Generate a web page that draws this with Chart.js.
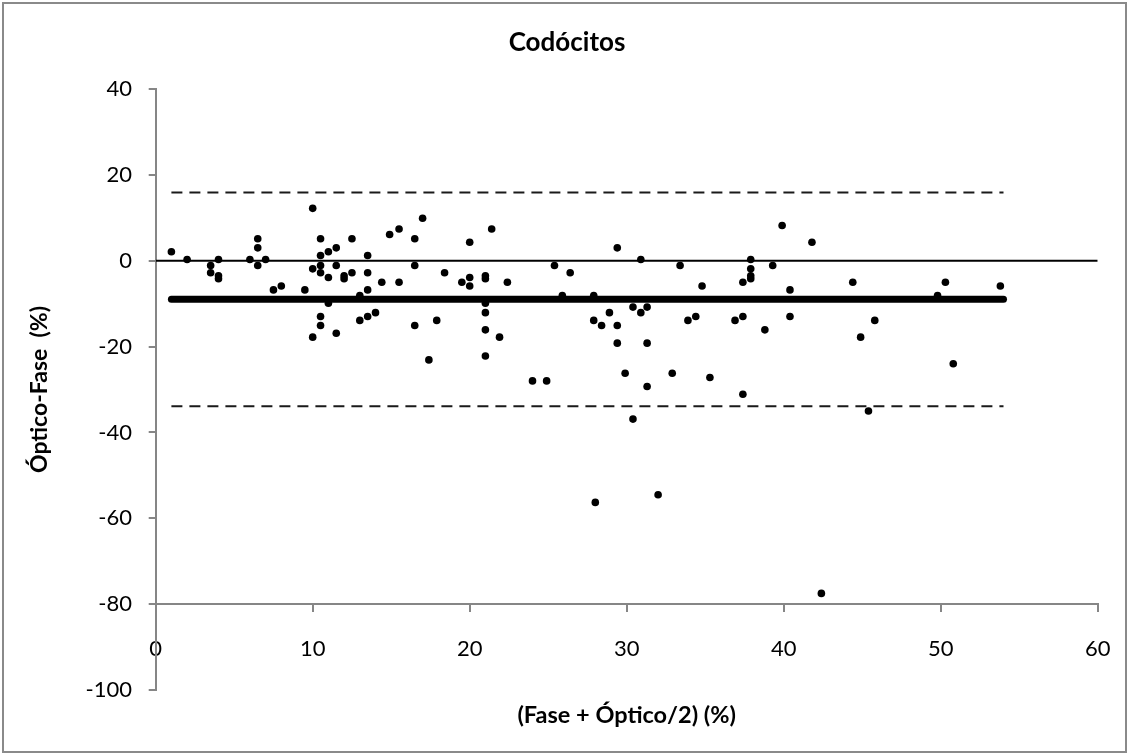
<!DOCTYPE html>
<html>
<head>
<meta charset="utf-8">
<title>Codócitos</title>
<script src="https://cdn.jsdelivr.net/npm/chart.js@4"></script>
<style>
  body { margin: 0; background: #fff; }
  #frame {
    position: absolute;
    left: 2px;
    top: 2px;
    width: 1125px;
    height: 751px;
    border: 2px solid #8a8a8a;
    box-sizing: border-box;
  }
</style>
</head>
<body>
<div id="frame"><canvas id="baChart" width="1121" height="747"></canvas></div>
<script>
// mean of the two methods (x) and difference Óptico-Fase (y)
const meanValues = [
  1.0, 2.0, 3.5, 3.5, 4.0, 4.0, 4.0, 6.0, 6.5, 6.5, 6.5, 7.0, 7.5, 8.0, 9.5,
  10.0, 10.0, 10.0, 10.5, 10.5, 10.5, 10.5, 10.5, 10.5, 11.0, 11.0, 11.0,
  11.5, 11.5, 11.5, 12.0, 12.0, 12.5, 12.5, 13.0, 13.0, 13.5, 13.5, 13.5, 13.5, 14.0,
  14.4, 14.9, 15.5, 15.5, 16.5, 16.5, 16.5, 17.0, 17.4, 17.9, 18.4, 19.5,
  20.0, 20.0, 20.0, 21.0, 21.0, 21.0, 21.0, 21.0, 21.0, 21.4, 21.9, 22.4,
  24.0, 24.9, 25.4, 25.9, 26.4, 27.9, 27.9, 28.0, 28.4,
  28.9, 29.4, 29.4, 29.4, 29.9, 30.4, 30.4, 30.9, 30.9, 31.3, 31.3, 31.3,
  32.0, 32.9, 33.4, 33.9, 34.4, 34.8, 35.3, 36.9, 37.4, 37.4, 37.4,
  37.9, 37.9, 37.9, 37.9, 38.8, 39.3, 39.9, 40.4, 40.4, 41.8, 42.4,
  44.4, 44.9, 45.4, 45.8, 49.8, 50.3, 50.8, 53.8
];
const diffValues = [
  2.1, 0.3, -1.1, -2.8, 0.3, -3.5, -4.2, 0.3, 5.1, 3.0, -1.1, 0.3, -6.8, -5.9, -6.8,
  12.2, -1.9, -17.8, 5.1, 1.2, -1.1, -2.8, -13.0, -15.1, 2.1, -3.9, -9.9,
  3.0, -1.1, -16.9, -3.5, -4.2, 5.1, -2.8, -8.1, -13.9, 1.2, -2.8, -6.8, -13.0, -12.1,
  -5.0, 6.1, 7.4, -5.0, 5.1, -1.1, -15.1, 9.9, -23.1, -13.9, -2.8, -5.0,
  4.3, -3.9, -5.9, -3.5, -4.2, -9.9, -12.1, -16.1, -22.2, 7.4, -17.8, -5.0,
  -28.0, -28.0, -1.1, -8.1, -2.8, -8.1, -13.9, -56.3, -15.1,
  -12.1, 3.0, -15.1, -19.2, -26.2, -10.8, -36.9, 0.3, -12.1, -10.8, -19.2, -29.3,
  -54.5, -26.2, -1.1, -13.9, -13.0, -5.9, -27.2, -13.9, -5.0, -13.0, -31.1,
  0.3, -1.9, -3.5, -4.2, -16.1, -1.1, 8.2, -6.8, -13.0, 4.3, -77.5,
  -5.0, -17.8, -35.0, -13.9, -8.1, -5.0, -24.0, -5.9
];

// bias and limits of agreement
const biasValue = -9;
const upperLimit = 15.9;
const lowerLimit = -33.9;
const limitRange = [1, 54];
const zeroRange = [0, 60];

const xTicks = { min: 0, max: 60, step: 10 };
const yTicks = { min: -100, max: 40, step: 20 };

const axisGrey = "#868686";
const fontFamily = "Lato, 'Open Sans', sans-serif";

function flatLine(value, range) {
  return range.map((x) => ({ x: x, y: value }));
}

const points = meanValues.map((x, i) => ({ x: x, y: diffValues[i] }));

document.addEventListener("DOMContentLoaded", function () {
  const ctx = document.getElementById("baChart").getContext("2d");

  new Chart(ctx, {
    type: "scatter",
    data: {
      datasets: [
        {
          label: "Diferencias",
          data: points,
          backgroundColor: "#000",
          borderColor: "#000",
          pointRadius: 3.8,
          pointBorderWidth: 0,
        },
        {
          label: "Media",
          data: flatLine(biasValue, limitRange),
          showLine: true,
          borderColor: "#000",
          borderWidth: 7,
          borderCapStyle: "round",
          pointRadius: 0,
        },
        {
          label: "Límite superior",
          data: flatLine(upperLimit, limitRange),
          showLine: true,
          borderColor: "#1a1a1a",
          borderWidth: 2,
          borderDash: [11, 7],
          pointRadius: 0,
        },
        {
          label: "Límite inferior",
          data: flatLine(lowerLimit, limitRange),
          showLine: true,
          borderColor: "#1a1a1a",
          borderWidth: 2,
          borderDash: [11, 7],
          pointRadius: 0,
        },
        {
          label: "Cero",
          data: flatLine(0, zeroRange),
          showLine: true,
          borderColor: "#000",
          borderWidth: 2,
          pointRadius: 0,
        },
      ],
    },
    options: {
      responsive: false,
      animation: false,
      layout: {
        // the x axis sits at y = -80, so it takes no room of its own
        padding: { left: 32.3, right: 27.3, top: 0, bottom: 61 },
      },
      plugins: {
        legend: { display: false },
        tooltip: { enabled: false },
        title: {
          display: true,
          text: "Codócitos",
          color: "#000",
          font: { family: fontFamily, size: 26, weight: "bold" },
          padding: { top: 23.4, bottom: 30.4 },
        },
      },
      scales: {
        x: {
          type: "linear",
          position: { y: -80 },
          min: xTicks.min,
          max: xTicks.max,
          afterFit: function (scale) {
            scale.height = 61;
            scale.paddingLeft = 0;
            scale.paddingRight = 0;
          },
          ticks: {
            stepSize: xTicks.step,
            color: "#000",
            padding: 25,
            font: { family: fontFamily, size: 22 },
          },
          grid: {
            drawOnChartArea: false,
            drawTicks: true,
            tickLength: 7,
            color: axisGrey,
            lineWidth: 2,
          },
          border: { display: true, color: axisGrey, width: 2 },
          title: {
            display: true,
            text: "(Fase + Óptico/2) (%)",
            color: "#000",
            font: { family: fontFamily, size: 23.5, weight: "bold" },
            padding: { top: 0, bottom: -64 },
          },
        },
        y: {
          type: "linear",
          position: "left",
          min: yTicks.min,
          max: yTicks.max,
          afterFit: function (scale) {
            scale.width = 119.4;
          },
          ticks: {
            stepSize: yTicks.step,
            color: "#000",
            padding: 16.7,
            font: { family: fontFamily, size: 22 },
          },
          grid: {
            drawOnChartArea: false,
            drawTicks: true,
            tickLength: 7,
            color: axisGrey,
            lineWidth: 2,
          },
          border: { display: true, color: axisGrey, width: 2 },
          title: {
            display: true,
            text: "Óptico-Fase  (%)",
            color: "#000",
            font: { family: fontFamily, size: 23, weight: "bold" },
            padding: { top: -10.1, bottom: 0 },
          },
        },
      },
    },
  });
});
</script>
</body>
</html>
